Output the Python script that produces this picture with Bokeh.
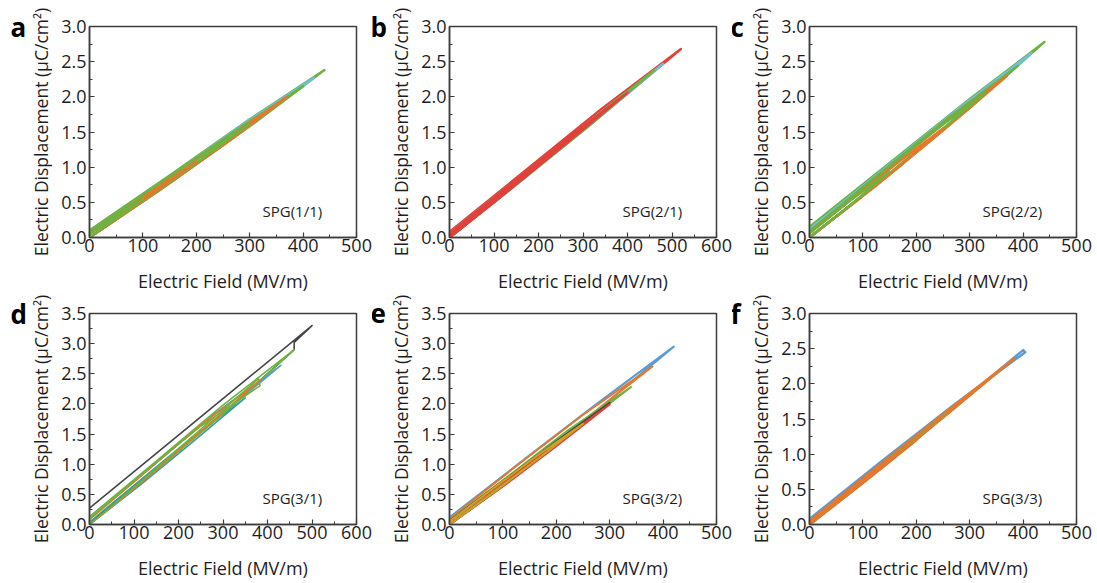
from bokeh.plotting import figure
from bokeh.models import SingleIntervalTicker, PrintfTickFormatter, Label, Range1d, Title
from bokeh.layouts import column, row
from bokeh.embed import file_html
from bokeh.resources import INLINE

FONT = "Open Sans"
TXT = "#1e1e1e"
AX = "#3c3c3c"

GREEN = "#6DB33F"
ORANGE = "#E5782D"
CYAN = "#6CC0DC"
RED = "#E2413A"
BLUE = "#5B9BD5"
GRAY = "#454545"
TEAL = "#3C9C9A"
GOLD = "#C9A227"

# ---------------- data (E in MV/m, D in uC/cm2) ----------------
# panel a  SPG(1/1)
A_COLORS = [GREEN, CYAN, GREEN, ORANGE, GREEN, ORANGE, GREEN]
A_E = [[0, 150, 300, 440, 300, 150, 0],
       [0, 140, 280, 420, 280, 140, 0],
       [0, 135, 270, 400, 270, 135, 0],
       [0, 125, 250, 370, 250, 125, 0],
       [0, 100, 200, 300, 200, 100, 0],
       [0, 70, 140, 200, 140, 70, 0],
       [0, 50, 100, 50, 0]]
A_D = [[0.00, 0.77, 1.58, 2.38, 1.68, 0.88, 0.10],
       [0.00, 0.72, 1.48, 2.27, 1.57, 0.80, 0.08],
       [0.00, 0.70, 1.42, 2.15, 1.50, 0.78, 0.08],
       [0.00, 0.64, 1.31, 2.00, 1.37, 0.70, 0.06],
       [0.00, 0.52, 1.06, 1.62, 1.12, 0.59, 0.07],
       [0.00, 0.37, 0.75, 1.08, 0.78, 0.41, 0.05],
       [0.00, 0.27, 0.55, 0.31, 0.05]]

# panel b  SPG(2/1)
B_COLORS = [RED, CYAN, GREEN, RED, RED, RED]
B_E = [[0, 170, 340, 520, 340, 170, 0],
       [0, 160, 320, 480, 320, 160, 0],
       [0, 155, 310, 460, 310, 155, 0],
       [0, 130, 260, 400, 260, 130, 0],
       [0, 100, 200, 300, 200, 100, 0],
       [0, 65, 130, 200, 130, 65, 0]]
B_D = [[0.00, 0.86, 1.73, 2.68, 1.82, 0.95, 0.08],
       [0.00, 0.80, 1.62, 2.47, 1.68, 0.87, 0.06],
       [0.00, 0.78, 1.57, 2.38, 1.62, 0.83, 0.05],
       [0.00, 0.66, 1.33, 2.06, 1.39, 0.72, 0.06],
       [0.00, 0.50, 1.02, 1.55, 1.07, 0.55, 0.05],
       [0.00, 0.34, 0.68, 1.03, 0.72, 0.38, 0.04]]

# panel c  SPG(2/2)
C_COLORS = [GREEN, CYAN, GREEN, ORANGE, GREEN, ORANGE, GREEN]
C_E = [[0, 150, 300, 440, 300, 150, 0],
       [0, 140, 280, 415, 280, 140, 0],
       [0, 130, 260, 390, 260, 130, 0],
       [0, 125, 250, 370, 250, 125, 0],
       [0, 110, 220, 330, 220, 110, 0],
       [0, 85, 170, 250, 170, 85, 0],
       [0, 75, 150, 75, 0]]
C_D = [[0.00, 0.90, 1.84, 2.78, 1.97, 1.06, 0.15],
       [0.00, 0.84, 1.72, 2.62, 1.84, 0.98, 0.12],
       [0.00, 0.78, 1.60, 2.44, 1.70, 0.90, 0.09],
       [0.00, 0.74, 1.52, 2.30, 1.61, 0.84, 0.08],
       [0.00, 0.66, 1.36, 2.06, 1.44, 0.76, 0.08],
       [0.00, 0.50, 1.02, 1.55, 1.09, 0.58, 0.06],
       [0.00, 0.45, 0.93, 0.52, 0.06]]

# panel d  SPG(3/1)
D_COLORS = [GRAY, TEAL, BLUE, GREEN, ORANGE, GREEN]
D_E = [[0, 150, 300, 460, 460, 500, 330, 170, 0],
       [0, 115, 230, 350, 230, 115, 0],
       [0, 140, 280, 430, 280, 140, 0],
       [0, 150, 300, 460, 300, 150, 0],
       [0, 125, 250, 385, 250, 125, 0],
       [0, 125, 250, 380, 383, 250, 125, 0]]
D_D = [[0.02, 0.92, 1.84, 2.90, 3.02, 3.30, 2.27, 1.30, 0.27],
       [0.00, 0.66, 1.36, 2.10, 1.44, 0.74, 0.04],
       [0.00, 0.84, 1.72, 2.64, 1.83, 0.97, 0.10],
       [0.00, 0.90, 1.83, 2.90, 1.98, 1.05, 0.13],
       [0.00, 0.75, 1.55, 2.40, 1.65, 0.86, 0.08],
       [0.00, 0.77, 1.58, 2.42, 2.30, 1.63, 0.88, 0.10]]

# panel e  SPG(3/2)
E_COLORS = [BLUE, ORANGE, GREEN, GRAY, RED, GOLD]
E_E = [[0, 140, 280, 420, 280, 140, 0],
       [0, 125, 250, 380, 250, 125, 0],
       [0, 110, 220, 340, 220, 110, 0],
       [0, 100, 200, 300, 200, 100, 0],
       [0, 100, 200, 300, 200, 100, 0],
       [0, 85, 170, 250, 170, 85, 0]]
E_D = [[0.00, 0.93, 1.92, 2.95, 2.03, 1.08, 0.12],
       [0.00, 0.84, 1.72, 2.62, 1.82, 0.97, 0.09],
       [0.00, 0.72, 1.47, 2.28, 1.55, 0.80, 0.07],
       [0.00, 0.64, 1.31, 2.02, 1.38, 0.72, 0.06],
       [0.00, 0.63, 1.30, 1.99, 1.35, 0.70, 0.05],
       [0.00, 0.55, 1.12, 1.67, 1.18, 0.62, 0.05]]

# panel f  SPG(3/3)
F_COLORS = [BLUE, TEAL, GREEN, ORANGE, ORANGE]
F_E = [[0, 135, 270, 400, 404, 270, 135, 0],
       [0, 95, 190, 280, 190, 95, 0],
       [0, 110, 220, 330, 220, 110, 0],
       [0, 130, 260, 385, 260, 130, 0],
       [0, 70, 140, 200, 140, 70, 0]]
F_D = [[0.00, 0.82, 1.66, 2.48, 2.45, 1.70, 0.90, 0.08],
       [0.00, 0.56, 1.14, 1.72, 1.17, 0.60, 0.03],
       [0.00, 0.66, 1.34, 2.03, 1.38, 0.71, 0.04],
       [0.00, 0.78, 1.58, 2.37, 1.63, 0.84, 0.05],
       [0.00, 0.41, 0.83, 1.20, 0.86, 0.45, 0.04]]

FW = 267
# per column: (figure width, left border, letter offset, y-title standoff)
COLS = [(372, 89, -74, 5), (360, 77, -74, 5), (365, 77, -74, 5)]
# per row: (figure height, top border, frame height)
ROWS = [(295, 26, 212), (288, 18, 211)]

PANELS = [
    ("a", "SPG(1/1)", 500, 3.0, A_COLORS, A_E, A_D, 2.4, 0, 0),
    ("b", "SPG(2/1)", 600, 3.0, B_COLORS, B_E, B_D, 2.4, 1, 0),
    ("c", "SPG(2/2)", 500, 3.0, C_COLORS, C_E, C_D, 2.4, 2, 0),
    ("d", "SPG(3/1)", 600, 3.5, D_COLORS, D_E, D_D, 1.6, 0, 1),
    ("e", "SPG(3/2)", 500, 3.5, E_COLORS, E_E, E_D, 2.0, 1, 1),
    ("f", "SPG(3/3)", 500, 3.0, F_COLORS, F_E, F_D, 2.4, 2, 1),
]


def make_panel(letter, spg, xmax, ymax, colors, Es, Ds, lw, col, rw):
    width, left, ldx, ystand = COLS[col]
    height, top, fh = ROWS[rw]
    p = figure(width=width, height=height,
               x_range=Range1d(0, xmax), y_range=Range1d(0, ymax),
               output_backend="svg", toolbar_location=None,
               min_border_left=left, min_border_right=width - left - FW,
               min_border_top=top, min_border_bottom=height - top - fh)
    p.grid.visible = False
    p.background_fill_color = "white"
    p.border_fill_color = "white"
    p.outline_line_color = AX
    p.outline_line_width = 1.5
    p.outline_line_alpha = 1.0

    p.xaxis.ticker = SingleIntervalTicker(interval=100, num_minor_ticks=2)
    p.yaxis.ticker = SingleIntervalTicker(interval=0.5, num_minor_ticks=2)
    p.yaxis.formatter = PrintfTickFormatter(format="%.1f")
    p.xaxis.axis_label = "Electric Field (MV/m)"
    p.yaxis.axis_label = "Electric Displacement (\u03bcC/cm\u00b2)"
    for ax in (p.xaxis[0], p.yaxis[0]):
        ax.axis_line_color = AX
        ax.axis_line_width = 1.5
        ax.major_tick_line_color = AX
        ax.minor_tick_line_color = AX
        ax.major_tick_line_width = 1.2
        ax.minor_tick_line_width = 1.0
        ax.major_tick_in = 5
        ax.major_tick_out = 0
        ax.minor_tick_in = 3
        ax.minor_tick_out = 0
        ax.major_label_text_font = FONT
        ax.major_label_text_font_size = "18px"
        ax.major_label_text_color = TXT
        ax.axis_label_text_font = FONT
        ax.axis_label_text_font_style = "normal"
        ax.axis_label_text_color = TXT
    p.xaxis.axis_label_text_font_size = "18px"
    p.yaxis.axis_label_text_font_size = "17.5px"
    p.xaxis.major_label_standoff = 1
    p.xaxis.axis_label_standoff = 14
    p.yaxis.major_label_standoff = 3
    p.yaxis.axis_label_standoff = ystand

    for c, e, d in zip(colors, Es, Ds):
        p.line(e, d, line_color=c, line_width=lw, line_join="round")

    p.add_layout(Label(x=173, y=27, x_units="screen", y_units="screen",
                       text=spg, text_font=FONT, text_font_size="15px",
                       text_color=TXT, text_baseline="middle"))
    # panel letter as a title shifted into the left border
    p.add_layout(Title(text=letter, align="left", offset=ldx - 5,
                       standoff=-42, vertical_align="middle",
                       text_font=FONT, text_font_size="26px",
                       text_font_style="bold", text_color="black"), "above")
    return p


figs = [make_panel(*args) for args in PANELS]
layout = column(row(*figs[:3]), row(*figs[3:]))

open("out.html", "w").write(file_html(layout, INLINE))
